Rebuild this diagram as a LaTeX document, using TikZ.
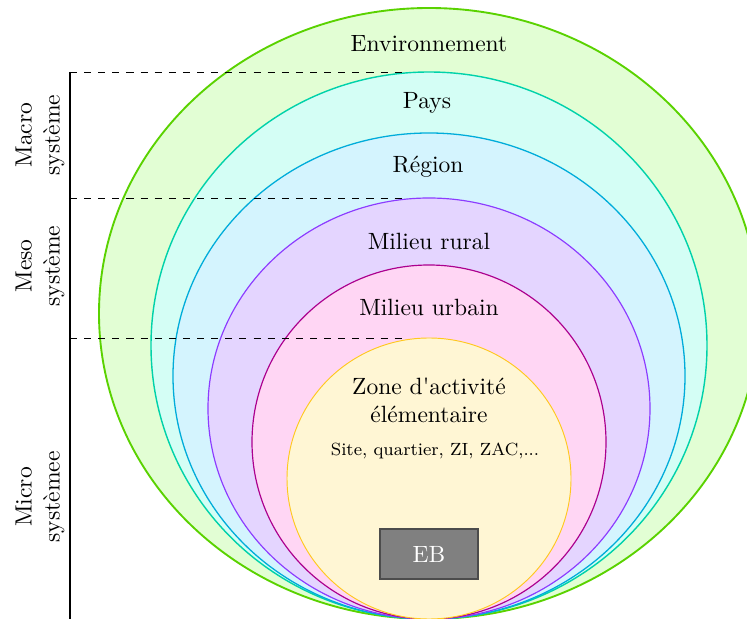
\documentclass[tikz,border=0pt]{standalone}
\usepackage{tikz}
\usetikzlibrary{positioning}

\definecolor{envline}{RGB}{90,210,0}
\definecolor{envfill}{RGB}{226,254,212}
\definecolor{paysline}{RGB}{0,210,170}
\definecolor{paysfill}{RGB}{212,254,245}
\definecolor{regline}{RGB}{0,172,218}
\definecolor{regfill}{RGB}{212,244,254}
\definecolor{ruralline}{RGB}{140,60,255}
\definecolor{ruralfill}{RGB}{228,213,255}
\definecolor{urbline}{RGB}{172,0,142}
\definecolor{urbfill}{RGB}{255,214,244}
\definecolor{zoneline}{RGB}{255,200,30}
\definecolor{zonefill}{RGB}{255,246,212}

\tikzset{
  lbl/.style={font=\normalsize},
  syslbl/.style={rotate=90,align=center,font=\normalsize},
  guide/.style={dashed,line width=0.4pt},
  ebbox/.style={draw=black!70,fill=black!50,line width=0.6pt,text=white,minimum width=98*0.425pt,minimum height=50*0.425pt}
}

\begin{document}
\begin{tikzpicture}[x=0.425pt,y=-0.425pt]
\useasboundingbox (0,0) rectangle (747,619);
\clip (0,0) rectangle (747,619);
\foreach \cy/\rx/\ry/\lc/\fc/\lw in {313.5/330/305.5/envline/envfill/0.8pt,
  345.5/278/273.5/paysline/paysfill/0.6pt,
  376/256/243/regline/regfill/0.55pt,
  408.5/221/210.5/ruralline/ruralfill/0.5pt,
  442/177/177/urbline/urbfill/0.5pt,
  478.5/142/140.5/zoneline/zonefill/0.4pt}{
  \draw[draw=\lc,fill=\fc,line width=\lw] (429,\cy) ellipse [x radius=\rx,y radius=\ry];
}
\coordinate (macro top) at (70,72);
\coordinate (meso top) at (70,198);
\coordinate (micro top) at (70,338);
\coordinate (axis end) at (70,619);
\coordinate (macro end) at (405,72);
\coordinate (meso end) at (405,198);
\coordinate (micro end) at (405,338);
\draw[guide] (macro top) -- (macro end);
\draw[guide] (meso top) -- (meso end);
\draw[guide] (micro top) -- (micro end);
\draw[line width=0.6pt] (macro top) -- (axis end);
\node[syslbl] (macro) at (40,135) {Macro\\système};
\node[syslbl] (meso) at (40,266) {Meso\\système};
\node[syslbl] (micro) at (40,497) {Micro\\systèmee};
\node[lbl] (env) at (429,44) {Environnement};
\node[lbl] (pays) at (427,103) {Pays};
\node[lbl] (region) at (428,167) {Région};
\node[lbl] (rural) at (429,241) {Milieu rural};
\node[lbl] (urbain) at (429,307) {Milieu urbain};
\node[lbl,align=center] (zone) at (429,400) {Zone d\textquotesingle activité\\élémentaire};
\node[font=\fontsize{7.5pt}{9pt}\selectfont] (sites) at (435,451) {Site, quartier, ZI, ZAC,...};
\node[ebbox] (eb) at (429,554) {EB};
\end{tikzpicture}
\end{document}
